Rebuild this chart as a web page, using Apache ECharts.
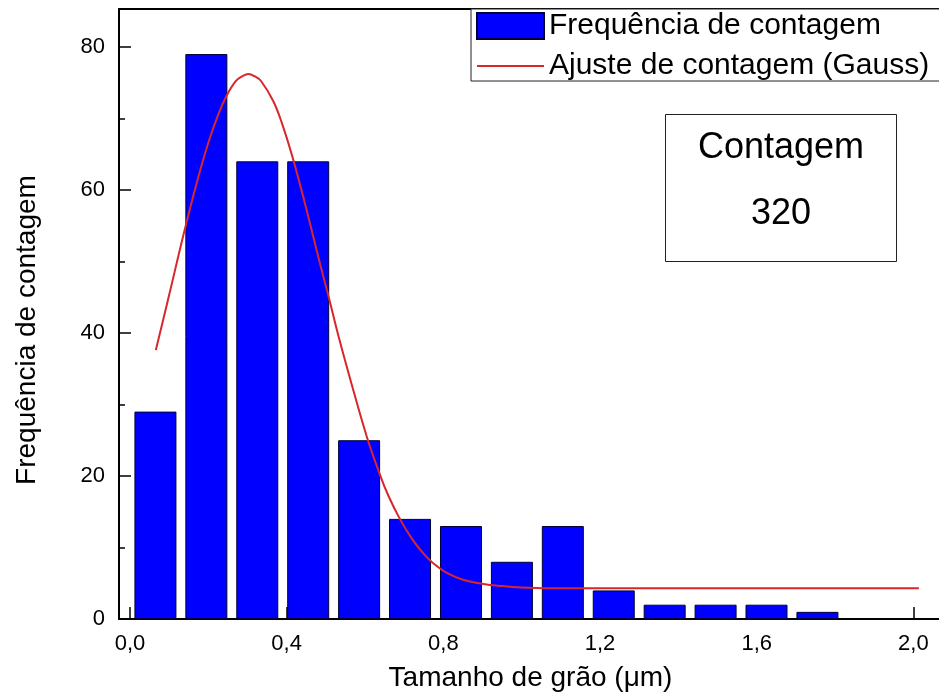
<!DOCTYPE html>
<html><head><meta charset="utf-8">
<script src="https://cdn.jsdelivr.net/npm/echarts@6/dist/echarts.min.js"></script>
<style>html,body{margin:0;padding:0;background:#fff}#c{width:939px;height:697px}</style>
</head><body><div id="c"></div>
<script>
// Histogram (bin centres in µm, counts)
const binCenters = [0.065, 0.195, 0.325, 0.455, 0.585, 0.715, 0.845, 0.975, 1.105, 1.235, 1.365, 1.495, 1.625, 1.755];
const counts = [29, 79, 64, 64, 25, 14, 13, 8, 13, 4, 2, 2, 2, 1];
// Gauss fit curve
const fitX = [0.066, 0.10, 0.136, 0.17, 0.20, 0.225, 0.247, 0.27, 0.287, 0.302, 0.318, 0.335, 0.366, 0.39, 0.417, 0.45, 0.48, 0.506, 0.535, 0.562, 0.604, 0.638, 0.66, 0.689, 0.72, 0.75, 0.774, 0.81, 0.85, 0.902, 0.95, 1.00, 1.072, 1.20, 1.50, 1.80, 2.014];
const fitY = [37.6, 45.3, 53.6, 60.9, 66.6, 70.5, 73.2, 75.2, 75.9, 76.2, 75.9, 75.2, 72.4, 69.0, 64.2, 57.4, 50.8, 45.3, 39.0, 33.6, 25.6, 20.2, 17.2, 14.0, 11.2, 9.1, 7.8, 6.4, 5.5, 4.9, 4.6, 4.4, 4.3, 4.3, 4.3, 4.3, 4.3];
// Ticks
const xMajorTicks = [0, 0.4, 0.8, 1.2, 1.6, 2.0];
const xTickLabels = ['0,0', '0,4', '0,8', '1,2', '1,6', '2,0'];
const xMinorTicks = [0.2, 0.6, 1.0, 1.4, 1.8];
const yMajorTicks = [0, 20, 40, 60, 80];
const yMinorTicks = [10, 30, 50, 70];

const FONT = '"Liberation Sans", Arial, sans-serif';
const X_MIN = -0.028, X_MAX = 2.073, Y_MIN = 0, Y_MAX = 85.3;

const chart = echarts.init(document.getElementById('c'));
const xBase = {type: 'value', min: X_MIN, max: X_MAX, splitLine: {show: false}};
const yBase = {type: 'value', min: Y_MIN, max: Y_MAX, splitLine: {show: false}};
chart.setOption({
  animation: false,
  backgroundColor: '#fff',
  grid: {left: 119, right: -3, top: 9, bottom: 78, containLabel: false, outerBoundsMode: 'none'},
  graphic: [
    {type: 'rect', left: 665, top: 114, z: 100, shape: {width: 231, height: 147}, style: {fill: '#fff', stroke: '#222', lineWidth: 1}},
    {type: 'text', x: 781, y: 148, z: 101, style: {text: 'Contagem', font: '36px ' + FONT, fill: '#000', textAlign: 'center', textVerticalAlign: 'middle'}},
    {type: 'text', x: 781, y: 214, z: 101, style: {text: '320', font: '36px ' + FONT, fill: '#000', textAlign: 'center', textVerticalAlign: 'middle'}}
  ],
  legend: {
    orient: 'vertical', left: 471, top: 9,
    padding: [2, 40, 0, 5], itemGap: 10, itemWidth: 67, itemHeight: 26,
    borderColor: '#222', borderWidth: 1, backgroundColor: '#fff',
    textStyle: {fontSize: 30, color: '#000', fontFamily: FONT},
    data: [
      {name: 'Frequência de contagem', icon: 'rect'},
      {name: 'Ajuste de contagem (Gauss)', icon: 'path://M0,0H67V2H0Z'}
    ]
  },
  xAxis: [
    Object.assign({}, xBase, {
      position: 'bottom',
      name: 'Tamanho de grão (μm)', nameLocation: 'middle', nameGap: 45,
      nameTextStyle: {fontSize: 28, color: '#000', fontFamily: FONT},
      axisLine: {show: true, onZero: false, lineStyle: {color: '#000', width: 2}},
      axisTick: {show: true, inside: true, length: 12, customValues: xMajorTicks, lineStyle: {color: '#000', width: 1.5}},
      axisLabel: {show: true, customValues: xMajorTicks, fontSize: 22, margin: 14, color: '#000', fontFamily: FONT,
        formatter: v => xTickLabels[xMajorTicks.findIndex(t => Math.abs(t - v) < 1e-6)] || ''}
    }),
    Object.assign({}, xBase, {
      position: 'bottom',
      axisLine: {show: false, onZero: false},
      axisTick: {show: true, inside: true, length: 6, customValues: xMinorTicks, lineStyle: {color: '#000', width: 1.5}},
      axisLabel: {show: false, customValues: xMinorTicks}
    }),
    Object.assign({}, xBase, {
      position: 'top',
      axisLine: {show: true, onZero: false, lineStyle: {color: '#000', width: 2}},
      axisTick: {show: false}, axisLabel: {show: false}
    })
  ],
  yAxis: [
    Object.assign({}, yBase, {
      position: 'left',
      name: 'Frequência de contagem', nameLocation: 'middle', nameGap: 78,
      nameTextStyle: {fontSize: 28, color: '#000', fontFamily: FONT, padding: [0, 32, 0, 0]},
      axisLine: {show: true, onZero: false, lineStyle: {color: '#000', width: 2}},
      axisTick: {show: true, inside: true, length: 12, customValues: yMajorTicks, lineStyle: {color: '#000', width: 1.5}},
      axisLabel: {show: true, customValues: yMajorTicks, fontSize: 22, margin: 14, color: '#000', fontFamily: FONT}
    }),
    Object.assign({}, yBase, {
      position: 'left',
      axisLine: {show: false, onZero: false},
      axisTick: {show: true, inside: true, length: 6, customValues: yMinorTicks, lineStyle: {color: '#000', width: 1.5}},
      axisLabel: {show: false, customValues: yMinorTicks}
    })
  ],
  series: [
    {
      name: 'Frequência de contagem', type: 'bar', xAxisIndex: 0, yAxisIndex: 0,
      barWidth: 42,
      data: binCenters.map((x, i) => [x, counts[i]]),
      itemStyle: {color: '#0000ff', borderColor: '#000033', borderWidth: 1}
    },
    {
      name: 'Ajuste de contagem (Gauss)', type: 'line', xAxisIndex: 0, yAxisIndex: 0,
      data: fitX.map((x, i) => [x, fitY[i]]),
      smooth: 0.4, symbol: 'none', z: 5,
      lineStyle: {color: '#d9262b', width: 2}, itemStyle: {color: '#d9262b'}
    }
  ]
});
</script>
</body></html>
